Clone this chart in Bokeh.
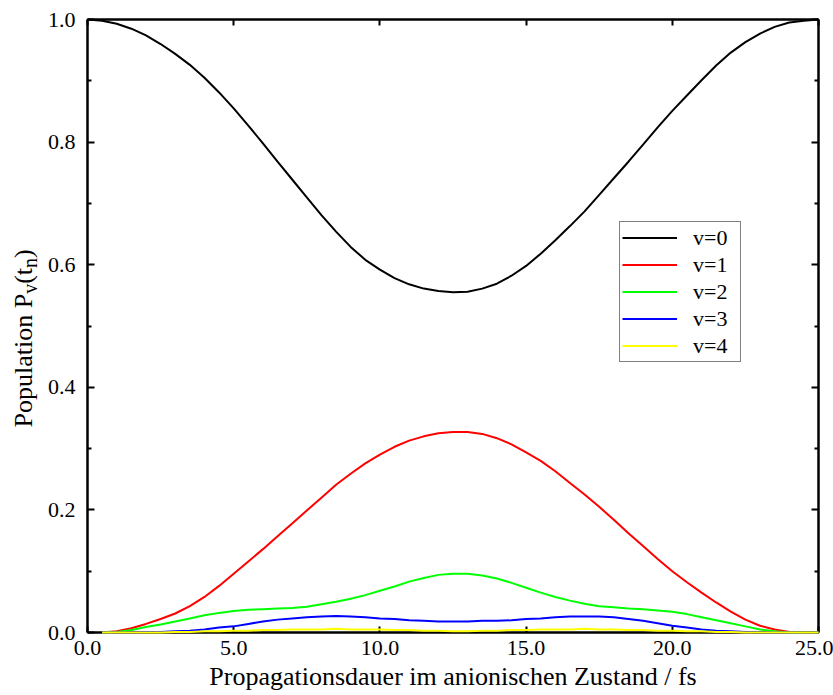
import math
from bokeh.plotting import figure
from bokeh.layouts import row
from bokeh.models import (LinearAxis, FixedTicker, PrintfTickFormatter, Legend,
                          LegendItem)
from bokeh.core.properties import value
from bokeh.embed import file_html
from bokeh.resources import INLINE

# ---------------- data ----------------
t_black = [0.0, 0.5, 1.0, 1.5, 2.0, 2.5, 3.0, 3.5, 4.0, 4.5, 5.0, 5.5, 6.0, 6.5,
           7.0, 7.5, 8.0, 8.5, 9.0, 9.5, 10.0, 10.5, 11.0, 11.5, 12.0, 12.5,
           13.0, 13.5, 14.0, 14.5, 15.0, 15.5, 16.0, 16.5, 17.0, 17.5, 18.0,
           18.5, 19.0, 19.5, 20.0, 20.5, 21.0, 21.5, 22.0, 22.5, 23.0, 23.5,
           24.0, 24.5, 25.0]
t_other = t_black[1:]

p_v0 = [1.000, 0.998, 0.993, 0.985, 0.974, 0.960, 0.944, 0.926, 0.905, 0.881,
        0.855, 0.827, 0.798, 0.768, 0.739, 0.710, 0.681, 0.654, 0.629, 0.608,
        0.592, 0.578, 0.568, 0.561, 0.557, 0.555, 0.556, 0.561, 0.569, 0.582,
        0.598, 0.618, 0.640, 0.663, 0.687, 0.714, 0.741, 0.768, 0.796, 0.824,
        0.851, 0.876, 0.901, 0.925, 0.946, 0.963, 0.977, 0.988, 0.995, 0.998,
        1.000]

p_v1 = [0.000, 0.002, 0.007, 0.014, 0.022, 0.031, 0.043, 0.058, 0.076, 0.096,
        0.116, 0.136, 0.157, 0.178, 0.199, 0.220, 0.241, 0.259, 0.276, 0.290,
        0.303, 0.313, 0.320, 0.325, 0.327, 0.327, 0.324, 0.317, 0.307, 0.294,
        0.280, 0.263, 0.244, 0.225, 0.205, 0.184, 0.162, 0.141, 0.120, 0.100,
        0.082, 0.065, 0.049, 0.034, 0.021, 0.011, 0.005, 0.001, 0.000, 0.000]

p_v2 = [0.000, 0.001, 0.004, 0.009, 0.013, 0.018, 0.023, 0.028, 0.032, 0.035,
        0.037, 0.038, 0.039, 0.040, 0.042, 0.046, 0.050, 0.055, 0.061, 0.068,
        0.075, 0.083, 0.089, 0.094, 0.096, 0.096, 0.093, 0.088, 0.081, 0.073,
        0.065, 0.058, 0.052, 0.047, 0.043, 0.041, 0.039, 0.038, 0.036, 0.034,
        0.030, 0.025, 0.020, 0.015, 0.010, 0.005, 0.002, 0.000, 0.000, 0.000]

p_v3 = [0.000, 0.000, 0.000, 0.001, 0.001, 0.002, 0.003, 0.005, 0.008, 0.010,
        0.014, 0.018, 0.021, 0.023, 0.025, 0.026, 0.027, 0.026, 0.025, 0.023,
        0.022, 0.020, 0.019, 0.018, 0.018, 0.018, 0.019, 0.019, 0.020, 0.022,
        0.023, 0.025, 0.026, 0.026, 0.026, 0.025, 0.022, 0.019, 0.015, 0.011,
        0.008, 0.005, 0.003, 0.002, 0.001, 0.000, 0.000, 0.000, 0.000, 0.000]

p_v4 = [0.000, 0.000, 0.000, 0.000, 0.000, 0.001, 0.001, 0.002, 0.002, 0.003,
        0.003, 0.004, 0.004, 0.005, 0.005, 0.005, 0.006, 0.005, 0.005, 0.005,
        0.004, 0.004, 0.003, 0.003, 0.002, 0.002, 0.003, 0.003, 0.004, 0.004,
        0.005, 0.005, 0.005, 0.006, 0.005, 0.005, 0.004, 0.004, 0.003, 0.003,
        0.002, 0.002, 0.001, 0.001, 0.000, 0.000, 0.000, 0.000, 0.000, 0.000]

series_labels = ["v=0", "v=1", "v=2", "v=3", "v=4"]
series_colors = ["#000000", "#ff0000", "#00ff00", "#0000ff", "#ffff00"]

x_ticks = [0, 5, 10, 15, 20, 25]
y_ticks = [0.0, 0.2, 0.4, 0.6, 0.8, 1.0]
y_minor_ticks = [0.1, 0.3, 0.5, 0.7, 0.9]

x_title = "Propagationsdauer im anionischen Zustand / fs"
y_title_parts = ["Population P", "v", "(t", "n", ")"]

# ---------------- layout constants ----------------
FONT = "Liberation Serif"
TICK_SIZE = "22px"
W, H = 833, 695
TITLE_W = 44              # narrow strip on the left holding the y title
B_TOP, B_BOTTOM = 19, 63  # frame borders (shared by both figures of the row)

# ---------------- main figure ----------------
p = figure(width=W - TITLE_W, height=H, x_range=(0, 25), y_range=(0, 1),
           output_backend="svg", toolbar_location=None,
           min_border_left=85 - TITLE_W, min_border_right=15,
           min_border_top=B_TOP, min_border_bottom=B_BOTTOM)
p.outline_line_color = None
p.xgrid.visible = False
p.ygrid.visible = False

xt = FixedTicker(ticks=x_ticks, minor_ticks=[])
yt = FixedTicker(ticks=y_ticks, minor_ticks=y_minor_ticks)


def style_axis(ax, ticker, ticks, show_labels, tick_len):
    ax.ticker = ticker
    ax.axis_line_width = 2.5
    ax.axis_line_color = "black"
    ax.major_tick_in = tick_len
    ax.major_tick_out = 0
    ax.minor_tick_in = 4
    ax.minor_tick_out = 0
    ax.major_tick_line_width = 2
    ax.minor_tick_line_width = 2
    ax.major_tick_line_color = "black"
    ax.minor_tick_line_color = "black"
    ax.formatter = PrintfTickFormatter(format="%.1f")
    ax.major_label_text_font_size = TICK_SIZE
    ax.major_label_text_font = FONT
    ax.major_label_text_color = "black"
    if not show_labels:
        ax.major_label_overrides = {tk: "" for tk in ticks}
        ax.major_label_standoff = 0


xax = p.xaxis[0]
yax = p.yaxis[0]
style_axis(xax, xt, x_ticks, True, 6)
style_axis(yax, yt, y_ticks, True, 7)
xax.major_label_standoff = 8
yax.major_label_standoff = 12
xax.axis_label = x_title
xax.axis_label_text_font = FONT
xax.axis_label_text_font_size = "26px"
xax.axis_label_text_font_style = "normal"
xax.axis_label_text_color = "black"
xax.axis_label_standoff = 4

top_ax = LinearAxis()
style_axis(top_ax, xt, x_ticks, False, 6)
p.add_layout(top_ax, "above")
right_ax = LinearAxis()
style_axis(right_ax, yt, y_ticks, False, 7)
p.add_layout(right_ax, "right")

# ---------------- curves ----------------
all_x = [t_black, t_other, t_other, t_other, t_other]
all_y = [p_v0, p_v1, p_v2, p_v3, p_v4]
renderers = []
for xs, ys, col in zip(all_x, all_y, series_colors):
    r = p.line(xs, ys, line_color=col, line_width=2)
    r.level = "annotation"
    renderers.append(r)

legend = Legend(items=[LegendItem(label=lab, renderers=[r])
                       for lab, r in zip(series_labels, renderers)],
                location=(532, 270))
legend.border_line_color = "black"
legend.border_line_width = 1.5
legend.label_text_font_size = TICK_SIZE
legend.label_text_font = FONT
legend.label_text_color = "black"
legend.glyph_width = 55
legend.glyph_height = 27
legend.label_height = 27
legend.label_width = 45
legend.label_standoff = 16
legend.padding = 2
legend.spacing = 0
legend.margin = 0
p.add_layout(legend, "center")

# ---------------- y title strip (text with subscripts) ----------------
# data units of this strip are pixels: x from the page's left edge,
# y measured upwards from the page's bottom edge
tp = figure(width=TITLE_W, height=H, x_range=(0, TITLE_W),
            y_range=(B_BOTTOM, H - B_TOP),
            output_backend="svg", toolbar_location=None,
            x_axis_type=None, y_axis_type=None,
            min_border_left=0, min_border_right=0,
            min_border_top=B_TOP, min_border_bottom=B_BOTTOM)
tp.outline_line_color = None

main_size, sub_size = 26, 20
em = {"Population P": 5.14, "v": 0.5, "(t": 0.611, "n": 0.5, ")": 0.333}
pos = H - 427.0           # where the title starts (px above page bottom)
main_x, main_y, main_txt = [], [], []
sub_x, sub_y, sub_txt = [], [], []
for i, part in enumerate(y_title_parts):
    if i in (1, 3):
        sub_x.append(29.0)
        sub_y.append(pos)
        sub_txt.append(part)
        pos += em[part] * sub_size
    else:
        main_x.append(23.0)
        main_y.append(pos)
        main_txt.append(part)
        pos += em[part] * main_size

tp.text(x=main_x, y=main_y, text=main_txt, angle=math.pi / 2,
        text_font=value(FONT), text_font_size=value(f"{main_size}px"),
        text_align="left", text_baseline="alphabetic", text_color="black")
tp.text(x=sub_x, y=sub_y, text=sub_txt, angle=math.pi / 2,
        text_font=value(FONT), text_font_size=value(f"{sub_size}px"),
        text_align="left", text_baseline="alphabetic", text_color="black")

layout = row(tp, p, spacing=0)
open("out.html", "w").write(file_html(layout, INLINE))
